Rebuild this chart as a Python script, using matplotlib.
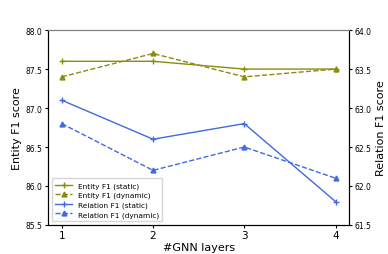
import matplotlib
matplotlib.use('Agg')
import matplotlib.pyplot as plt

layers = [1, 2, 3, 4]
entity_static = [87.6, 87.6, 87.5, 87.5]
entity_dynamic = [87.4, 87.7, 87.4, 87.5]
relation_static = [63.1, 62.6, 62.8, 61.8]
relation_dynamic = [62.8, 62.2, 62.5, 62.1]

c_ent = '#8b8b10'
c_rel = '#4169e1'

fig = plt.figure(figsize=(3.88, 2.55), dpi=100)
ax = fig.add_axes([0.124, 0.114, 0.776, 0.764])
l1, = ax.plot(layers, entity_static, color=c_ent, marker='+', markersize=4, linewidth=1, label='Entity F1 (static)')
l2, = ax.plot(layers, entity_dynamic, color=c_ent, marker='^', markersize=3.5, linewidth=1, linestyle='--', label='Entity F1 (dynamic)')
ax.set_ylim(85.5, 88.0)
ax.set_yticks([85.5, 86.0, 86.5, 87.0, 87.5, 88.0])
ax.set_xticks(layers)
ax.tick_params(axis='y', labelsize=5.5, length=2, pad=2)
ax.tick_params(axis='x', labelsize=7.5, length=2, pad=2)
ax.set_ylabel('Entity F1 score', fontsize=8, labelpad=3)
ax.set_xlabel('#GNN layers', fontsize=8, labelpad=1)

ax2 = ax.twinx()
l3, = ax2.plot(layers, relation_static, color=c_rel, marker='+', markersize=4, linewidth=1, label='Relation F1 (static)')
l4, = ax2.plot(layers, relation_dynamic, color=c_rel, marker='^', markersize=3.5, linewidth=1, linestyle='--', label='Relation F1 (dynamic)')
ax2.set_ylim(61.5, 64.0)
ax2.set_yticks([61.5, 62.0, 62.5, 63.0, 63.5, 64.0])
ax2.tick_params(axis='y', labelsize=5.5, length=2, pad=2)
ax2.set_ylabel('Relation F1 score', fontsize=8, labelpad=3)

ax.legend(handles=[l1, l2, l3, l4], loc='lower left', fontsize=5.3, framealpha=0.8,
          handlelength=2.2, borderpad=0.5, labelspacing=0.4)
for a in (ax, ax2):
    a.spines['top'].set_color('#808080')
ax.set_xlim(0.85, 4.15)

fig.savefig('out.png', dpi=100)
